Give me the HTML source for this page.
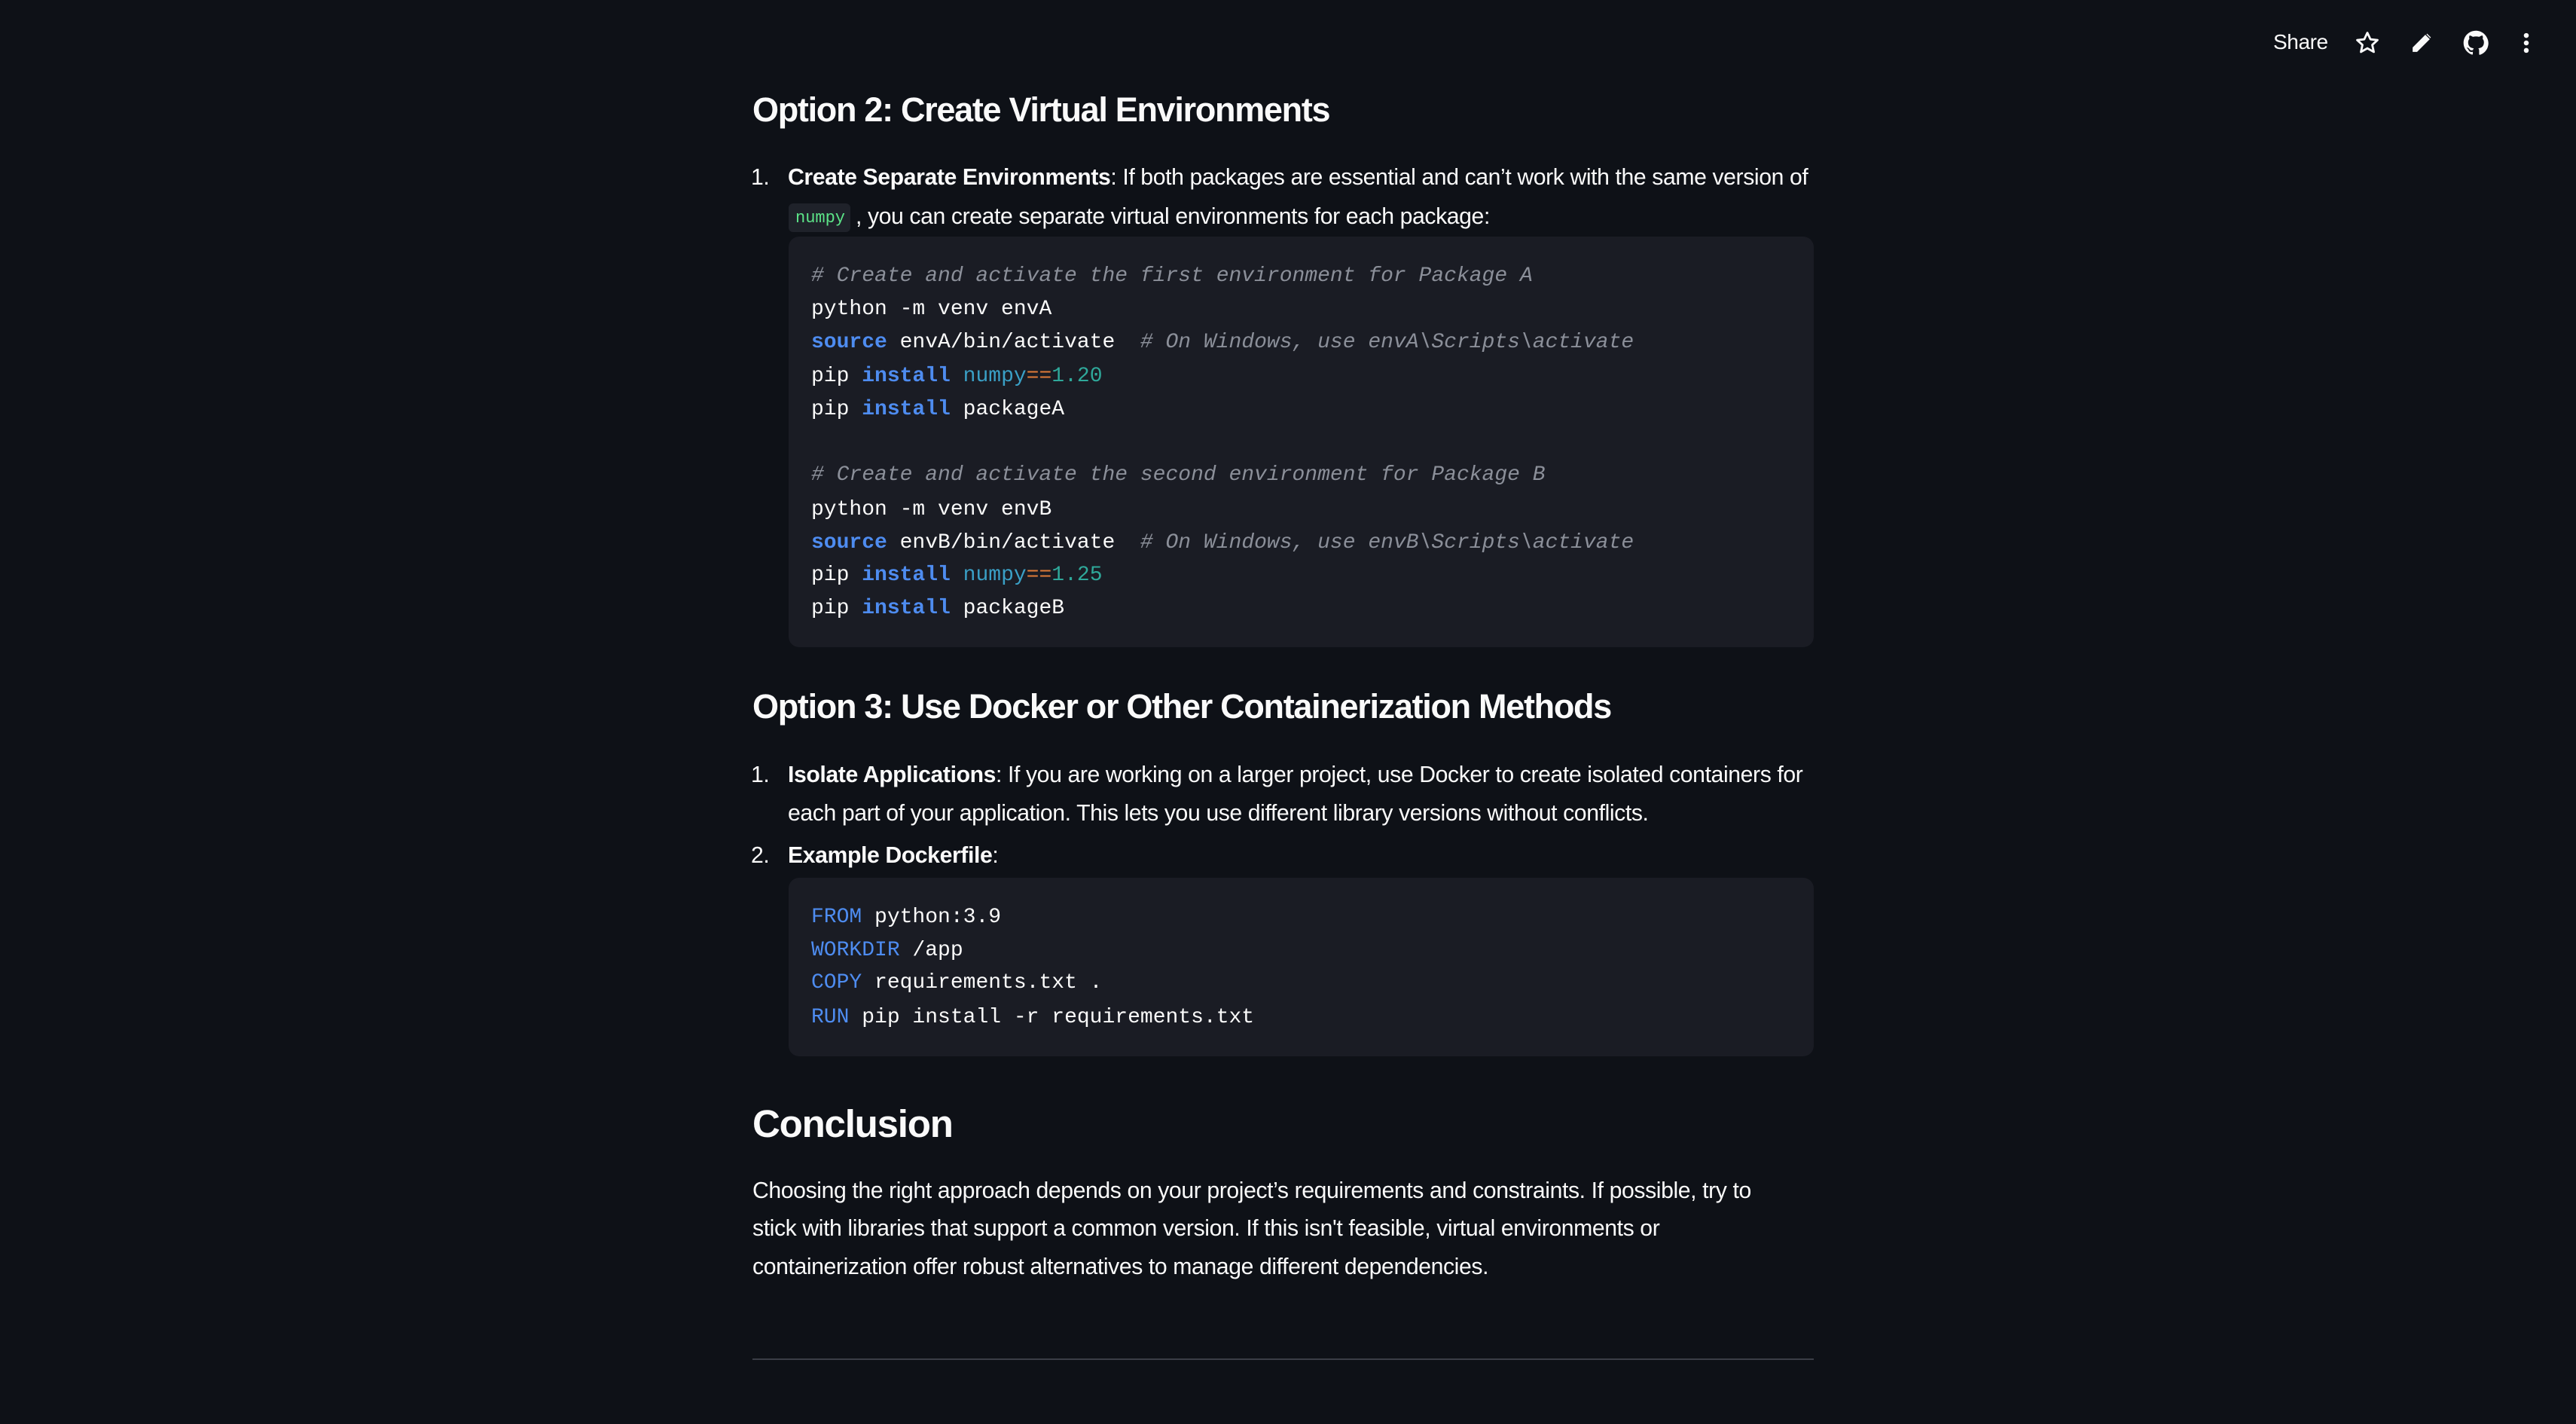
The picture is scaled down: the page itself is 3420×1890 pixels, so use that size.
<!DOCTYPE html>
<html><head><meta charset="utf-8"><style>
html,body{margin:0;padding:0;background:#0e1117;width:3420px;height:1890px;overflow:hidden}
body{position:relative;font-family:"Liberation Sans",sans-serif;color:#fafafa}
.t{position:absolute;white-space:nowrap;line-height:1}
.h2{font-size:45px;font-weight:bold;letter-spacing:-1.3px}
.p{font-size:30.2px;letter-spacing:-0.4px}
.code{position:absolute;background:#1a1c24;border-radius:14px}
.m{position:absolute;font-family:"Liberation Mono",monospace;font-size:28px;white-space:pre;line-height:1;color:#fafafa}
.c{color:#8b8f99;font-style:italic}
.k{color:#4e8cf0;font-weight:bold}
.kw{color:#4e8cf0}
.np{color:#3aa0c6}
.op{color:#e07b39}
.n{color:#2fa89a}
</style></head><body>
<div class="t p" style="left:3018px;top:42px;font-size:28px">Share</div>
<svg style="position:absolute;left:3126px;top:40px" width="34" height="34" viewBox="0 0 24 24"><path d="M12 2.5l2.9 6.1 6.6.7-4.9 4.5 1.4 6.6L12 17l-6 3.4 1.4-6.6-4.9-4.5 6.6-.7z" fill="none" stroke="#fafafa" stroke-width="2" stroke-linejoin="round"/></svg>
<svg style="position:absolute;left:3200px;top:42px" width="30" height="30" viewBox="0 0 24 24"><path d="M3 21v-4L16 4l4 4L7 21z M17.5 2.5l4 4" fill="#fafafa" stroke="#fafafa" stroke-width="1"/></svg>
<svg style="position:absolute;left:3270px;top:40px" width="34" height="34" viewBox="0 0 24 24"><path fill="#fafafa" d="M12 .5C5.6.5.5 5.6.5 12c0 5.1 3.3 9.4 7.9 10.9.6.1.8-.3.8-.6v-2c-3.2.7-3.900-1.5-3.9-1.5-.5-1.3-1.3-1.7-1.3-1.7-1-.7.1-.7.1-.7 1.2.1 1.8 1.2 1.8 1.2 1 1.8 2.8 1.3 3.5 1 .1-.8.4-1.3.7-1.6-2.6-.3-5.3-1.300-5.3-5.7 0-1.3.5-2.3 1.2-3.1-.1-.3-.5-1.5.1-3.1 0 0 1-.3 3.2 1.2a11 11 0 0 1 5.8 0c2.2-1.5 3.2-1.2 3.2-1.2.6 1.6.2 2.8.1 3.1.7.8 1.2 1.8 1.2 3.1 0 4.4-2.7 5.4-5.3 5.7.4.4.8 1.1.8 2.2v3.3c0 .3.2.7.8.6 4.6-1.5 7.9-5.8 7.9-10.9C23.5 5.6 18.4.5 12 .5z"/></svg>
<svg style="position:absolute;left:3346px;top:40px" width="16" height="34" viewBox="0 0 8 24"><circle cx="4" cy="5" r="2.3" fill="#fafafa"/><circle cx="4" cy="12" r="2.3" fill="#fafafa"/><circle cx="4" cy="19" r="2.3" fill="#fafafa"/></svg>

<div class="t h2" style="left:999px;top:123px">Option 2: Create Virtual Environments</div>
<div class="t p" style="left:997px;top:221px">1.</div>
<div class="t p" style="left:1046px;top:221px"><b>Create Separate Environments</b>: If both packages are essential and can’t work with the same version of</div>
<div style="position:absolute;left:1047px;top:270px;width:82px;height:38px;background:#1f222a;border-radius:6px"></div>
<div class="t" style="left:1056px;top:279px;font-family:'Liberation Mono',monospace;font-size:22px;color:#5ce488">numpy</div>
<div class="t p" style="left:1136px;top:273px">, you can create separate virtual environments for each package:</div>
<div class="code" style="left:1047px;top:314px;width:1361px;height:545px"></div>
<div class="m" style="left:1077px;top:353px"><span class="c"># Create and activate the first environment for Package A</span></div>
<div class="m" style="left:1077px;top:397px">python -m venv envA</div>
<div class="m" style="left:1077px;top:441px"><span class="k">source</span> envA/bin/activate  <span class="c"># On Windows, use envA\Scripts\activate</span></div>
<div class="m" style="left:1077px;top:486px">pip <span class="k">install</span> <span class="np">numpy</span><span class="op">==</span><span class="n">1.20</span></div>
<div class="m" style="left:1077px;top:530px">pip <span class="k">install</span> packageA</div>
<div class="m" style="left:1077px;top:617px"><span class="c"># Create and activate the second environment for Package B</span></div>
<div class="m" style="left:1077px;top:663px">python -m venv envB</div>
<div class="m" style="left:1077px;top:707px"><span class="k">source</span> envB/bin/activate  <span class="c"># On Windows, use envB\Scripts\activate</span></div>
<div class="m" style="left:1077px;top:750px">pip <span class="k">install</span> <span class="np">numpy</span><span class="op">==</span><span class="n">1.25</span></div>
<div class="m" style="left:1077px;top:794px">pip <span class="k">install</span> packageB</div>

<div class="t h2" style="left:999px;top:915px">Option 3: Use Docker or Other Containerization Methods</div>
<div class="t p" style="left:997px;top:1014px">1.</div>
<div class="t p" style="left:1046px;top:1014px"><b>Isolate Applications</b>: If you are working on a larger project, use Docker to create isolated containers for</div>
<div class="t p" style="left:1046px;top:1065px">each part of your application. This lets you use different library versions without conflicts.</div>
<div class="t p" style="left:997px;top:1121px">2.</div>
<div class="t p" style="left:1046px;top:1121px"><b>Example Dockerfile</b>:</div>
<div class="code" style="left:1047px;top:1165px;width:1361px;height:237px"></div>
<div class="m" style="left:1077px;top:1204px"><span class="kw">FROM</span> python:3.9</div>
<div class="m" style="left:1077px;top:1248px"><span class="kw">WORKDIR</span> /app</div>
<div class="m" style="left:1077px;top:1291px"><span class="kw">COPY</span> requirements.txt .</div>
<div class="m" style="left:1077px;top:1337px"><span class="kw">RUN</span> pip install -r requirements.txt</div>

<div class="t h2" style="left:999px;top:1466px;font-size:51px;letter-spacing:-1.2px">Conclusion</div>
<div class="t p" style="left:999px;top:1566px">Choosing the right approach depends on your project’s requirements and constraints. If possible, try to</div>
<div class="t p" style="left:999px;top:1616px">stick with libraries that support a common version. If this isn't feasible, virtual environments or</div>
<div class="t p" style="left:999px;top:1667px">containerization offer robust alternatives to manage different dependencies.</div>
<div style="position:absolute;left:999px;top:1803px;width:1409px;height:2px;background:#3a3d46"></div>
</body></html>
